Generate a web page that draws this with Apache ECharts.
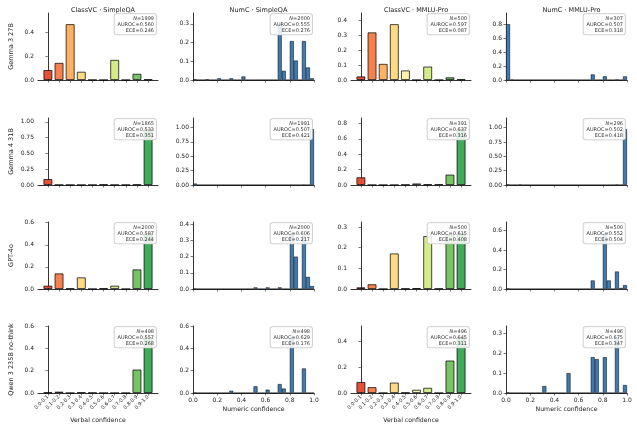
<!DOCTYPE html>
<html>
<head>
<meta charset="utf-8">
<script src="https://cdn.jsdelivr.net/npm/echarts@6/dist/echarts.min.js"></script>
<style>
  html, body { margin: 0; padding: 0; background: #fff; }
  #chart { width: 637px; height: 428px; }
</style>
</head>
<body>
<div id="chart"></div>
<script>
const colTitles = ['ClassVC · SimpleQA', 'NumC · SimpleQA', 'ClassVC · MMLU-Pro', 'NumC · MMLU-Pro'];
const rowModels = ['Gemma 3 27B', 'Gemma 4 31B', 'GPT-4o', 'Qwen 3 235B no-think'];
const verbalBins = ['0.0-0.1', '0.1-0.2', '0.2-0.3', '0.3-0.4', '0.4-0.5', '0.5-0.6', '0.6-0.7', '0.7-0.8', '0.8-0.9', '0.9-1.0'];
const numericTicks = [0, 0.2, 0.4, 0.6, 0.8, 1.0];
const numericBinCount = 30;

// ClassVC: share of answers per verbal bin
const gemma3VcSqa  = [0.083, 0.143, 0.466, 0.069, 0.001, 0, 0.168, 0, 0.052, 0.005];
const gemma3VcMmlu = [0.024, 0.319, 0.108, 0.374, 0.064, 0, 0.090, 0, 0.018, 0.004];
const gemma4VcSqa  = [0.094, 0.002, 0.001, 0.001, 0.001, 0.008, 0.001, 0.002, 0.007, 0.883];
const gemma4VcMmlu = [0.100, 0, 0, 0, 0.004, 0.020, 0.008, 0.008, 0.135, 0.725];
const gptVcSqa     = [0.030, 0.141, 0.005, 0.105, 0, 0.006, 0.030, 0, 0.177, 0.505];
const gptVcMmlu    = [0.008, 0.023, 0, 0.172, 0.002, 0.004, 0.256, 0.002, 0.262, 0.270];
const qwenVcSqa    = [0.005, 0.012, 0, 0.005, 0.002, 0, 0, 0, 0.210, 0.500];
const qwenVcMmlu   = [0.085, 0.045, 0, 0.080, 0.003, 0.025, 0.040, 0, 0.250, 0.430];

// NumC: share of answers per numeric bin (30 bins over 0..1)
const gemma3NcSqa  = [0.004,0,0,0.004,0,0,0.009,0,0,0.009, 0,0,0.019,0,0,0,0,0,0,0, 0,0.298,0.049,0,0.208,0.104,0,0.208,0.067,0.009];
const gemma3NcMmlu = [0.800,0.005,0,0,0,0,0,0,0,0, 0,0,0,0,0,0,0,0,0,0, 0,0.080,0,0,0.052,0,0,0.007,0,0.052];
const gemma4NcSqa  = [0.025,0,0,0,0,0,0,0,0,0, 0,0,0,0,0,0,0,0,0,0, 0,0,0,0,0.002,0,0,0.003,0,0.970];
const gemma4NcMmlu = [0.010,0,0,0.007,0,0,0,0,0,0, 0,0,0,0,0,0,0,0,0,0, 0,0,0,0,0,0,0,0.007,0,0.975];
const gptNcSqa     = [0.002,0,0,0,0,0,0,0,0,0, 0,0,0,0,0,0.010,0,0,0.010,0, 0,0.010,0,0,0.345,0.200,0,0.330,0.075,0.018];
const gptNcMmlu    = [0.005,0,0,0,0,0,0,0,0,0, 0,0,0,0,0,0,0,0,0,0, 0,0.088,0,0,0.575,0.088,0,0.180,0.010,0.040];
const qwenNcSqa    = [0.003,0,0,0,0,0,0,0,0,0.020, 0,0,0,0,0,0.060,0,0,0.030,0, 0,0.080,0.040,0,0.500,0,0,0.220,0,0];
const qwenNcMmlu   = [0.003,0,0,0,0,0,0,0,0,0.035, 0,0,0,0,0,0.100,0,0,0,0, 0,0.180,0.170,0,0.180,0,0,0.280,0,0.040];

const panels = [
  [gemma3VcSqa, gemma3NcSqa, gemma3VcMmlu, gemma3NcMmlu],
  [gemma4VcSqa, gemma4NcSqa, gemma4VcMmlu, gemma4NcMmlu],
  [gptVcSqa, gptNcSqa, gptVcMmlu, gptNcMmlu],
  [qwenVcSqa, qwenNcSqa, qwenVcMmlu, qwenNcMmlu]
];

const yTickStep = [
  [0.2, 0.1, 0.1, 0.2],
  [0.25, 0.25, 0.2, 0.25],
  [0.2, 0.1, 0.1, 0.2],
  [0.2, 0.2, 0.2, 0.1]
];

const statN = [[1999, 2000, 500, 307], [1865, 1991, 391, 296], [2000, 2000, 500, 500], [498, 498, 496, 496]];
const statAuroc = [['0.560', '0.555', '0.597', '0.507'], ['0.533', '0.507', '0.637', '0.502'], ['0.587', '0.606', '0.615', '0.552'], ['0.557', '0.629', '0.645', '0.675']];
const statEce = [['0.246', '0.276', '0.087', '0.318'], ['0.351', '0.421', '0.316', '0.418'], ['0.244', '0.217', '0.408', '0.504'], ['0.268', '0.176', '0.311', '0.347']];

// RdYlGn-like colours for the verbal bins
const verbalColors = ['#e64f35', '#f7814c', '#fdb163', '#fedb83', '#fef3ab', '#f0f9a9', '#d3ec87', '#a9da6c', '#77c465', '#40ab5a'];
const numericColor = '#3d7bb3';

// layout
const gridLeft = [38, 193, 351, 506];
const gridWidth = [120, 121, 120, 121];
const gridTop = [13, 118, 222, 326];
const gridHeight = 67;
const tickColor = '#222';

const chart = echarts.init(document.getElementById('chart'), null, { renderer: 'canvas' });

const grids = [], xAxes = [], yAxes = [], series = [], titles = [], statBoxes = [];

colTitles.forEach((t, c) => {
  titles.push({
    text: t,
    left: gridLeft[c] + gridWidth[c] / 2,
    top: 2,
    textAlign: 'center',
    textStyle: { fontSize: 6.5, fontWeight: 'normal', color: '#222', fontFamily: 'DejaVu Sans' }
  });
});

for (let r = 0; r < 4; r++) {
  for (let c = 0; c < 4; c++) {
    const idx = r * 4 + c;
    const vals = panels[r][c];
    const isVerbal = c % 2 === 0;
    const bottom = r === 3;
    const ymax = Math.max(...vals) * 1.2;
    const step = yTickStep[r][c];
    const yTicks = [];
    for (let k = 0; k * step <= ymax + 1e-9; k++) yTicks.push(+(k * step).toFixed(4));
    const dec = step === 0.25 ? 2 : 1;

    grids.push({ left: gridLeft[c], top: gridTop[r], width: gridWidth[c], height: gridHeight });

    const axisLine = { show: true, lineStyle: { color: '#000', width: 0.8 } };
    const axisTick = { show: true, length: 2.5, lineStyle: { color: tickColor, width: 0.6 } };

    if (isVerbal) {
      const pos = verbalBins.map((_, i) => i);
      xAxes.push({
        type: 'value', gridIndex: idx, min: -0.89, max: 9.89,
        axisLine, splitLine: { show: false },
        axisTick: Object.assign({}, axisTick, { customValues: pos }),
        axisLabel: {
          show: bottom, customValues: pos, rotate: 45, fontSize: 5, margin: 3, color: '#222',
          fontFamily: 'DejaVu Sans',
          formatter: v => verbalBins[Math.round(v)]
        },
        name: bottom ? 'Verbal confidence' : '',
        nameLocation: 'middle', nameGap: 24,
        nameTextStyle: { fontSize: 6.2, color: '#222', fontFamily: 'DejaVu Sans' }
      });
      const bw = 0.8 * gridWidth[c] / 10.78;
      series.push({
        type: 'bar', xAxisIndex: idx, yAxisIndex: idx, barWidth: bw,
        data: vals.map((v, i) => ({
          value: [i, v],
          itemStyle: { color: verbalColors[i], borderColor: 'rgba(0,0,0,0.8)', borderWidth: 0.9 }
        })),
        silent: true, animation: false
      });
    } else {
      xAxes.push({
        type: 'value', gridIndex: idx, min: 0, max: 1, interval: 0.2,
        axisLine, splitLine: { show: false },
        axisTick,
        axisLabel: {
          show: bottom, fontSize: 6, margin: 4, color: '#222', fontFamily: 'DejaVu Sans',
          formatter: v => v.toFixed(1)
        },
        name: bottom ? 'Numeric confidence' : '',
        nameLocation: 'middle', nameGap: 13,
        nameTextStyle: { fontSize: 6.2, color: '#222', fontFamily: 'DejaVu Sans' }
      });
      const bw = gridWidth[c] / numericBinCount;
      series.push({
        type: 'bar', xAxisIndex: idx, yAxisIndex: idx, barWidth: bw,
        data: vals.map((v, i) => [(i + 0.5) / numericBinCount, v]),
        itemStyle: { color: numericColor, borderColor: 'rgba(0,0,0,0.85)', borderWidth: 0.6 },
        silent: true, animation: false
      });
    }

    yAxes.push({
      type: 'value', gridIndex: idx, min: 0, max: ymax,
      axisLine, splitLine: { show: false },
      axisTick: Object.assign({}, axisTick, { customValues: yTicks }),
      axisLabel: {
        customValues: yTicks, fontSize: 6, margin: 4, color: '#222', fontFamily: 'DejaVu Sans',
        formatter: v => v.toFixed(dec)
      },
      name: c === 0 ? rowModels[r] : '',
      nameLocation: 'middle', nameGap: 23, nameRotate: 90,
      nameTextStyle: { fontSize: 6.5, color: '#222', fontFamily: 'DejaVu Sans' }
    });

    // stats box in the upper right of each panel
    statBoxes.push({
      type: 'text',
      x: gridLeft[c] + gridWidth[c] - 2,
      y: gridTop[r] + 1,
      z: 100,
      silent: true,
      style: {
        text: '{it|N}=' + statN[r][c] + '\nAUROC=' + statAuroc[r][c] + '\nECE=' + statEce[r][c],
        align: 'right',
        verticalAlign: 'top',
        fontSize: 5, lineHeight: 6, fill: '#333', fontFamily: 'DejaVu Sans',
        backgroundColor: 'rgba(255,255,255,0.85)',
        borderColor: '#c8c8c8', borderWidth: 0.8, borderRadius: 2,
        padding: [1.5, 2, 1, 3],
        rich: { it: { fontStyle: 'italic', fontSize: 5, fill: '#333', fontFamily: 'DejaVu Sans' } }
      }
    });
  }
}

chart.setOption({
  animation: false,
  backgroundColor: '#fff',
  title: titles,
  grid: grids,
  xAxis: xAxes,
  yAxis: yAxes,
  series: series,
  graphic: statBoxes
});
</script>
</body>
</html>
